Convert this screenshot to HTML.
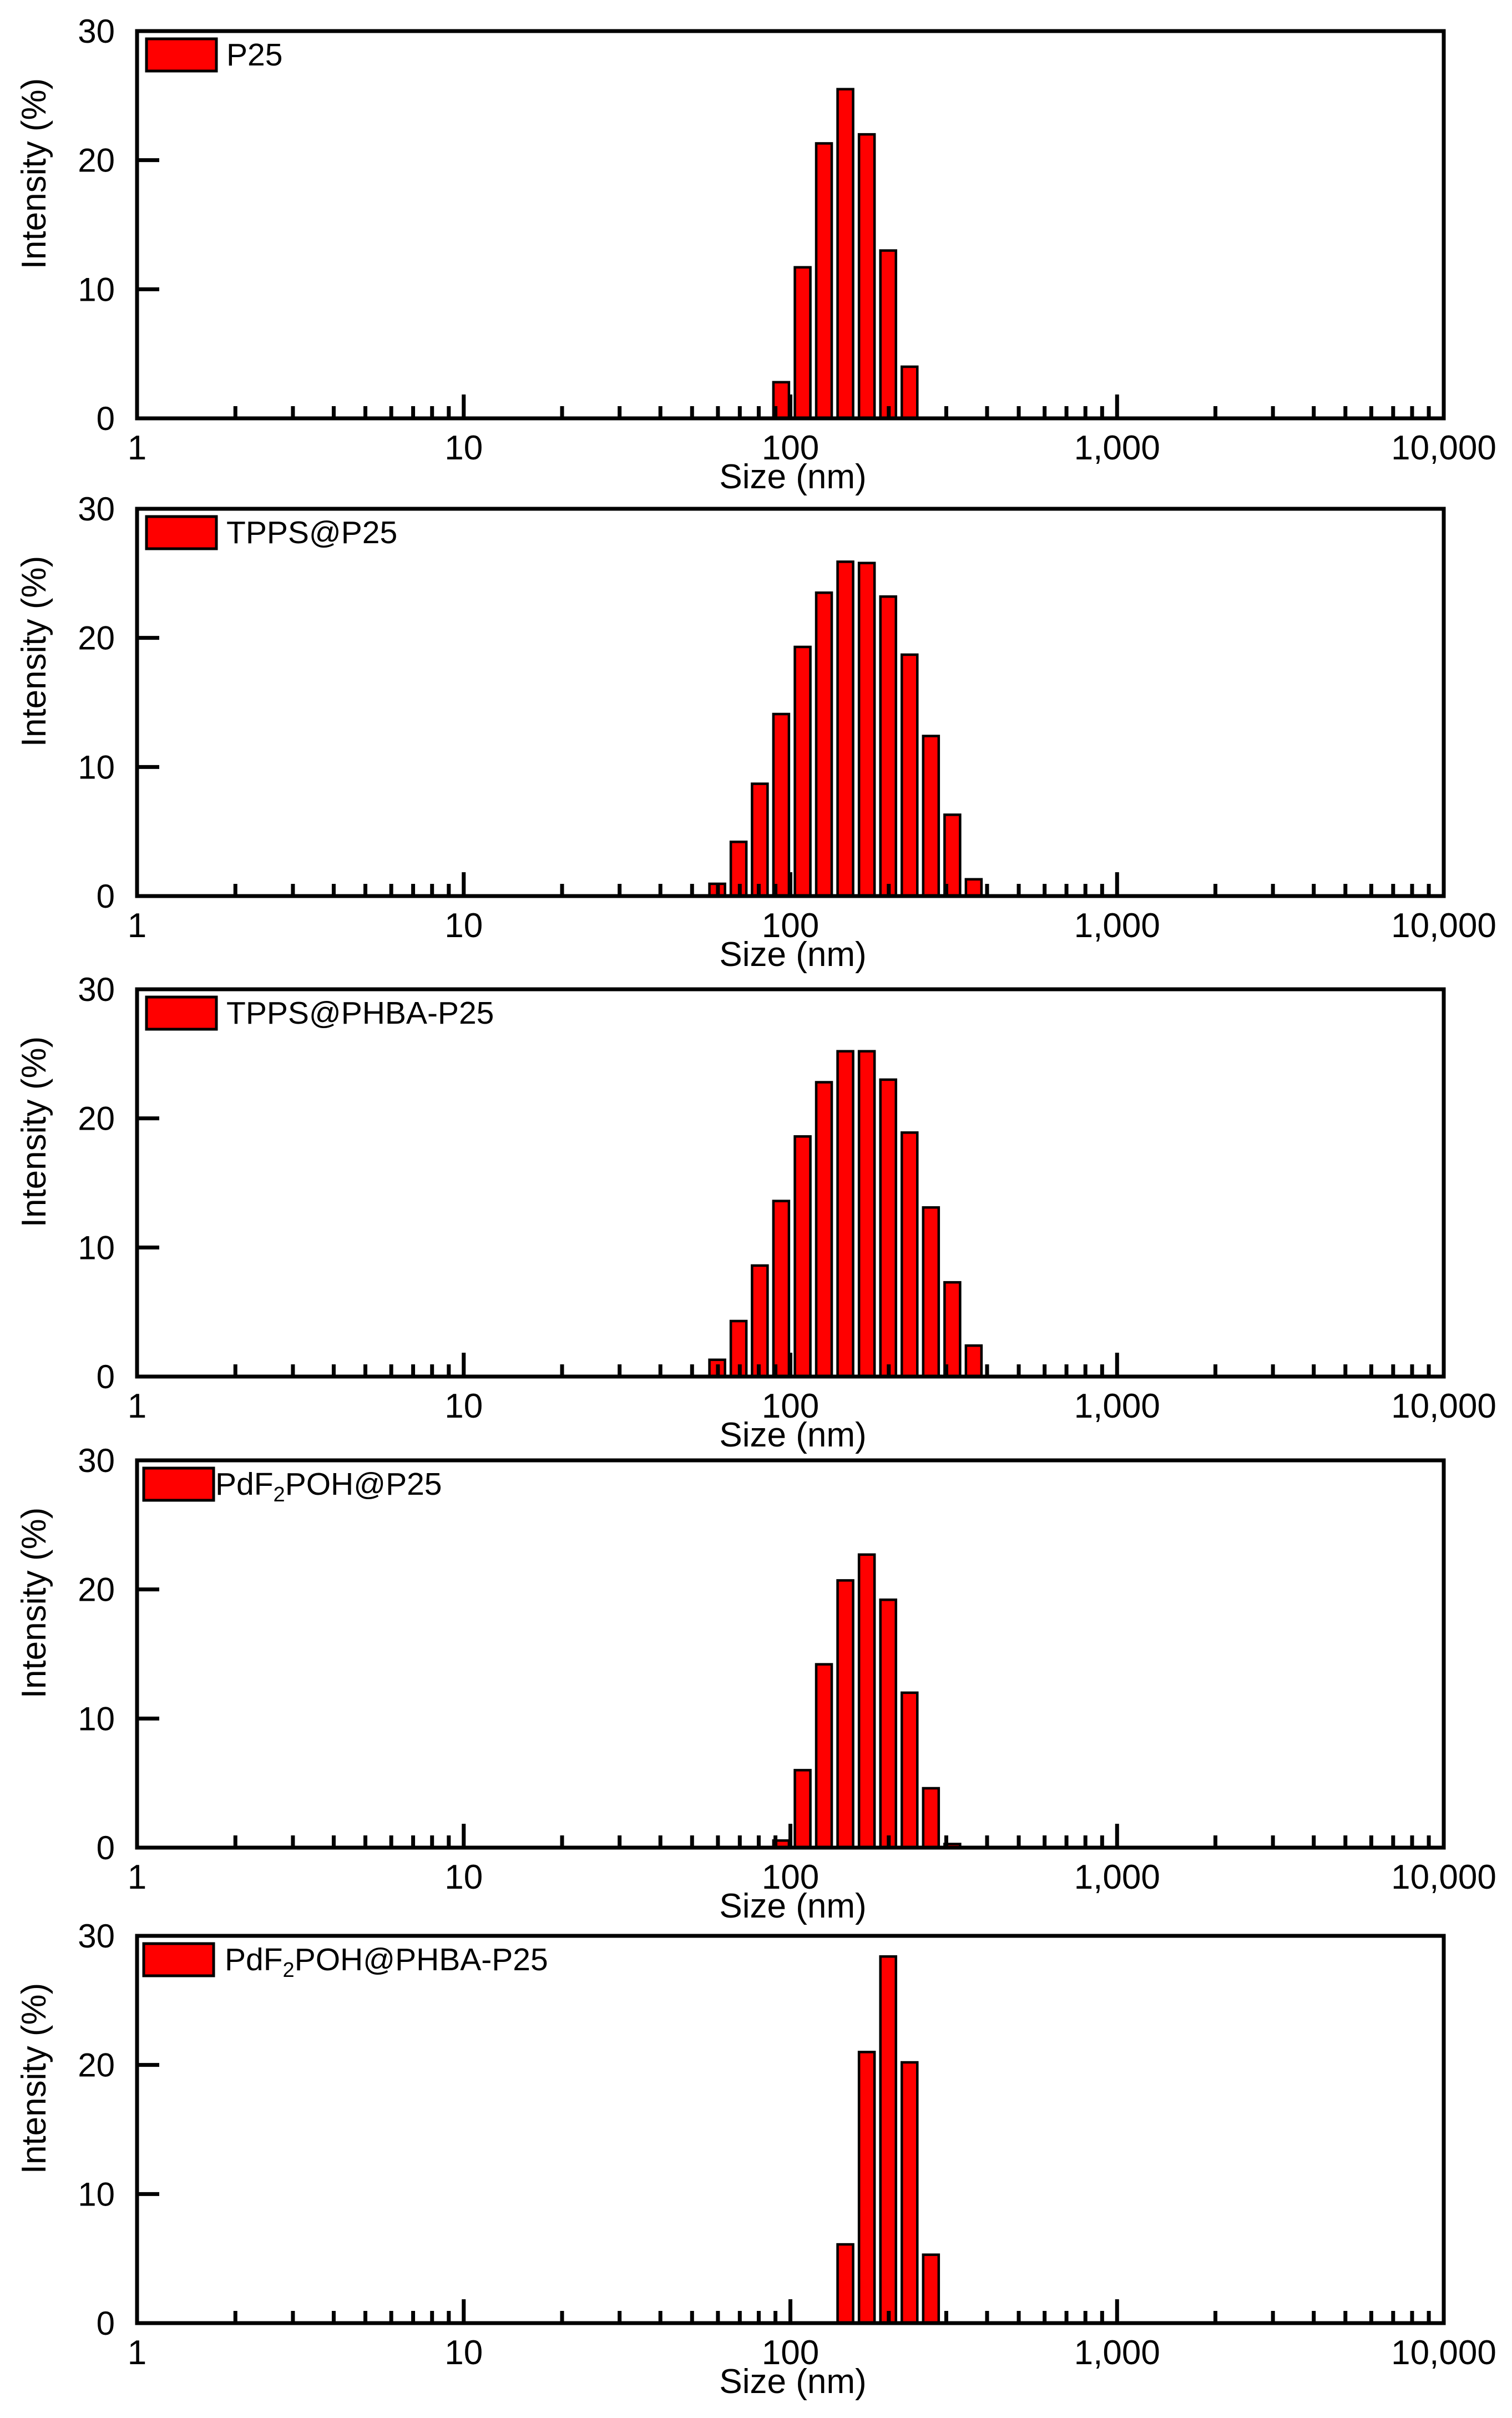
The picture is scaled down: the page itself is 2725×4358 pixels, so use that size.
<!DOCTYPE html>
<html><head><meta charset="utf-8"><style>
html,body{margin:0;padding:0;background:#fff;}
svg{display:block;font-family:"Liberation Sans",Arial,sans-serif;}
</style></head><body>
<svg id="fig" width="2725" height="4358" viewBox="0 0 2725 4358" xmlns="http://www.w3.org/2000/svg"></svg>
<script>
// ---- data ----
const panelLabels = ["P25","TPPS@P25","TPPS@PHBA-P25","PdF2POH@P25","PdF2POH@PHBA-P25"];
const sizesP25 = [93.7,109.0,126.7,147.3,171.3,199.2,231.6];
const valuesP25 = [2.8,11.7,21.3,25.5,22.0,13.0,4.0];
const sizesTPPS = [59.7,69.4,80.6,93.7,109.0,126.7,147.3,171.3,199.2,231.6,269.3,313.1,364.0];
const valuesTPPS = [0.95,4.2,8.7,14.1,19.3,23.5,25.9,25.8,23.2,18.7,12.4,6.3,1.3];
const sizesTPPSPHBA = [59.7,69.4,80.6,93.7,109.0,126.7,147.3,171.3,199.2,231.6,269.3,313.1,364.0];
const valuesTPPSPHBA = [1.3,4.3,8.6,13.6,18.6,22.8,25.2,25.2,23.0,18.9,13.1,7.3,2.4];
const sizesPdF = [93.7,109.0,126.7,147.3,171.3,199.2,231.6,269.3,313.1];
const valuesPdF = [0.55,6.0,14.2,20.7,22.7,19.2,12.0,4.6,0.28];
const sizesPdFPHBA = [147.3,171.3,199.2,231.6,269.3];
const valuesPdFPHBA = [6.1,21.0,28.4,20.2,5.3];
const yTicks = [0,10,20,30];
const xTickVals = [1,10,100,1000,10000];
const xTickLabels = ["1","10","100","1,000","10,000"];

const allSizes = [sizesP25,sizesTPPS,sizesTPPSPHBA,sizesPdF,sizesPdFPHBA];
const allValues = [valuesP25,valuesTPPS,valuesTPPSPHBA,valuesPdF,valuesPdFPHBA];

// ---- layout ----
const NS="http://www.w3.org/2000/svg";
const svg=document.getElementById('fig');
const L=247, R=2602, H=698;
const tops=[56,917,1783,2632,3489];
const decade=(R-L)/4;
function xs(v){return L+Math.log10(v)*decade;}
function mk(tag,attrs,parent){const e=document.createElementNS(NS,tag);for(const k in attrs)e.setAttribute(k,attrs[k]);(parent||svg).appendChild(e);return e;}
const halfW=Math.pow(10,0.0238);

for(let p=0;p<5;p++){
  const T=tops[p], B=T+H;
  const ys=v=>B-v/30*H;
  const g=mk('g',{});
  
  
  // bars
  const sz=allSizes[p], vals=allValues[p];
  for(let i=0;i<sz.length;i++){
    const x0=xs(sz[i]/halfW), x1=xs(sz[i]*halfW);
    const y=ys(vals[i]);
    const r=mk('rect',{x:x0,y:y,width:x1-x0,height:Math.max(B-y,0.5),fill:'#ff0000',stroke:'#000','stroke-width':4.5},g);
    
    
  }
  // frame
  const f=mk('rect',{x:L,y:T,width:R-L,height:H,fill:'none',stroke:'#000','stroke-width':7},g);
  
  
  // y ticks
  yTicks.forEach(v=>{
    const y=ys(v);
    if(v>0&&v<30) mk('line',{x1:L,x2:L+40,y1:y,y2:y,stroke:'#000','stroke-width':7},g);
    const t=mk('text',{x:207,y:y+21,'font-size':60,'text-anchor':'end',fill:'#000'},g);
    t.textContent=v;
    
    
  });
  // x ticks
  for(let d=0;d<4;d++){
    for(let m=2;m<=9;m++){
      const x=xs(m*Math.pow(10,d));
      mk('line',{x1:x,x2:x,y1:B,y2:B-22,stroke:'#000','stroke-width':7},g);
    }
  }
  xTickVals.forEach((v,i)=>{
    const x=xs(v);
    if(i>0&&i<4) mk('line',{x1:x,x2:x,y1:B,y2:B-43,stroke:'#000','stroke-width':7},g);
    const t=mk('text',{x:x,y:B+74,'font-size':62,'text-anchor':'middle',fill:'#000'},g);
    t.textContent=xTickLabels[i];
    
    
  });
  // axis titles
  const xt=mk('text',{x:1429,y:B+126,'font-size':62,'text-anchor':'middle',fill:'#000'},g);
  xt.textContent='Size (nm)';
  
  
  const yt=mk('text',{x:0,y:0,'font-size':62,'text-anchor':'middle',fill:'#000',transform:'translate(82,'+(T+257)+') rotate(-90)'},g);
  yt.textContent='Intensity (%)';
  
  
  // legend
  const bx = p>=3?259:264;
  const lb=mk('rect',{x:bx,y:T+14,width:126,height:58,fill:'#ff0000',stroke:'#000','stroke-width':5},g);
  
  
  const tx = p==3?388:(p==4?405:408);
  const lt=mk('text',{x:tx,y:T+62,'font-size':57,fill:'#000'},g);
  
  
  const lbl=panelLabels[p];
  if(lbl.startsWith('PdF2')){
    const a=mk('tspan',{},lt);a.textContent='PdF';
    const s=mk('tspan',{'font-size':38,dy:12},lt);s.textContent='2';
    const c=mk('tspan',{dy:-12},lt);c.textContent=lbl.slice(4);
  } else lt.textContent=lbl;
}
</script>
</body></html>
